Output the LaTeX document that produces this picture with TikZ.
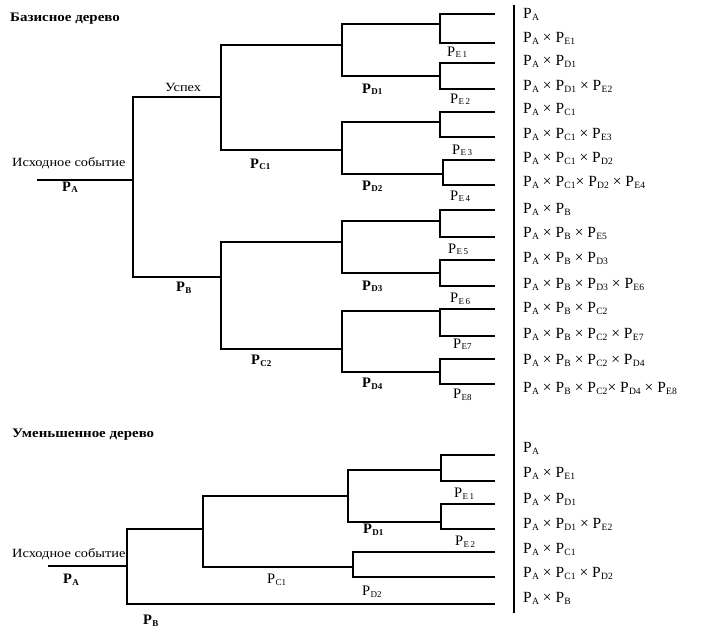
\documentclass[tikz,border=0pt]{standalone}
\usepackage{fontspec}
\setmainfont{Liberation Serif}
\newfontfamily\widefont[FakeStretch=1.15]{Liberation Serif}
\newcommand\myP[1]{P\kern0.3pt\raisebox{-0.3ex}{\scalebox{0.62}{#1}}}
\begin{document}
\begin{tikzpicture}[x=1pt,y=-1pt,
  br/.style={line width=2.6pt,line join=miter},
  sep/.style={line width=1.6pt},
  hd/.style={anchor=base west,inner sep=0pt,font=\widefont\bfseries\fontsize{13}{14}\selectfont},
  ev/.style={anchor=base west,inner sep=0pt,font=\widefont\fontsize{12.5}{14}\selectfont},
  pb/.style={anchor=base west,inner sep=0pt,font=\bfseries\fontsize{14.5}{15}\selectfont},
  pr/.style={anchor=base west,inner sep=0pt,font=\fontsize{14.5}{15}\selectfont},
  res/.style={anchor=base west,inner sep=0pt,font=\fontsize{15.5}{16}\selectfont}]
\useasboundingbox (0,0) rectangle (705,632);
% ---------- top tree ----------
\foreach \i/\y in {1/14,2/43,3/63,4/89,5/112,6/137,7/160,8/185,9/210,10/237,11/260,12/286,13/309,14/336,15/359,16/384}
  \coordinate (L\i) at (495,\y);
\coordinate (eJ1) at (440,24);
\coordinate (eJ2) at (440,76);
\coordinate (eJ3) at (440,122);
\coordinate (eJ4) at (443,174);
\coordinate (eJ5) at (440,221);
\coordinate (eJ6) at (440,273);
\coordinate (eJ7) at (440,311);
\coordinate (eJ8) at (440,372);
\coordinate (dJ1) at (342,45);
\coordinate (dJ2) at (342,150);
\coordinate (dJ3) at (342,242);
\coordinate (dJ4) at (342,349);
\coordinate (cJ1) at (221,97);
\coordinate (cJ2) at (221,277);
\coordinate (aJ) at (133,180);
\coordinate (r0) at (37,180);
\foreach \a/\b/\j in {1/2/1,3/4/2,5/6/3,7/8/4,9/10/5,11/12/6,13/14/7,15/16/8}
  \draw[br] (L\a) -- (L\a -| eJ\j) -- (L\b -| eJ\j) -- (L\b);
\draw[br] (eJ1) -- (eJ1 -| dJ1) -- (eJ2 -| dJ1) -- (eJ2);
\draw[br] (eJ3) -- (eJ3 -| dJ2) -- (eJ4 -| dJ2) -- (eJ4);
\draw[br] (eJ5) -- (eJ5 -| dJ3) -- (eJ6 -| dJ3) -- (eJ6);
\draw[br] (eJ7) -- (eJ7 -| dJ4) -- (eJ8 -| dJ4) -- (eJ8);
\draw[br] (dJ1) -- (dJ1 -| cJ1) -- (dJ2 -| cJ1) -- (dJ2);
\draw[br] (dJ3) -- (dJ3 -| cJ2) -- (dJ4 -| cJ2) -- (dJ4);
\draw[br] (cJ1) -- (cJ1 -| aJ) -- (cJ2 -| aJ) -- (cJ2);
\draw[br] (r0) -- (aJ);
% labels top
\node[hd] (h1) at (10,21) {Базисное дерево};
\node[ev] (us) at (165,91) {Успех};
\node[ev] (ie1) at (12,166) {Исходное событие};
\node[pb] (tpa) at (62,191) {\myP{A}};
\node[pb] (tpc1) at (250,168) {\myP{C1}};
\node[pb] (tpb) at (176,291) {\myP{B}};
\node[pb] (tpc2) at (251,364) {\myP{C2}};
\node[pb] (tpd1) at (362,93) {\myP{D1}};
\node[pb] (tpd2) at (362,190) {\myP{D2}};
\node[pb] (tpd3) at (362,290) {\myP{D3}};
\node[pb] (tpd4) at (362,387) {\myP{D4}};
\node[pr] (tpe1) at (447,56) {\myP{E\,1}};
\node[pr] (tpe2) at (450,103) {\myP{E\,2}};
\node[pr] (tpe3) at (452,154) {\myP{E\,3}};
\node[pr] (tpe4) at (450,200) {\myP{E\,4}};
\node[pr] (tpe5) at (448,253) {\myP{E\,5}};
\node[pr] (tpe6) at (450,302) {\myP{E\,6}};
\node[pr] (tpe7) at (453,348) {\myP{E7}};
\node[pr] (tpe8) at (453,398) {\myP{E8}};
% results top
\node[res] (R1) at (523,18) {\myP{A}};
\node[res] (R2) at (523,42) {\myP{A} × \myP{E1}};
\node[res] (R3) at (523,65) {\myP{A} × \myP{D1}};
\node[res] (R4) at (523,90) {\myP{A} × \myP{D1} × \myP{E2}};
\node[res] (R5) at (523,113) {\myP{A} × \myP{C1}};
\node[res] (R6) at (523,138) {\myP{A} × \myP{C1} × \myP{E3}};
\node[res] (R7) at (523,162) {\myP{A} × \myP{C1} × \myP{D2}};
\node[res] (R8) at (523,186) {\myP{A} × \myP{C1}× \myP{D2} × \myP{E4}};
\node[res] (R9) at (523,213) {\myP{A} × \myP{B}};
\node[res] (R10) at (523,237) {\myP{A} × \myP{B} × \myP{E5}};
\node[res] (R11) at (523,262) {\myP{A} × \myP{B} × \myP{D3}};
\node[res] (R12) at (523,288) {\myP{A} × \myP{B} × \myP{D3} × \myP{E6}};
\node[res] (R13) at (523,312) {\myP{A} × \myP{B} × \myP{C2}};
\node[res] (R14) at (523,338) {\myP{A} × \myP{B} × \myP{C2} × \myP{E7}};
\node[res] (R15) at (523,364) {\myP{A} × \myP{B} × \myP{C2} × \myP{D4}};
\node[res] (R16) at (523,392) {\myP{A} × \myP{B} × \myP{C2}× \myP{D4} × \myP{E8}};
% separator
\coordinate (sepT) at (514,5);
\coordinate (sepB) at (514,613);
\draw[sep] (sepT) -- (sepB);
% ---------- bottom tree ----------
\foreach \i/\y in {1/455,2/481,3/504,4/529,5/552,6/577,7/604}
  \coordinate (M\i) at (495,\y);
\coordinate (fJ1) at (441,470);
\coordinate (fJ2) at (441,522);
\coordinate (gJ1) at (348,496);
\coordinate (gJ2) at (353,567);
\coordinate (hJ) at (203,529);
\coordinate (bJ) at (127,566);
\coordinate (s0) at (48,566);
\draw[br] (M1) -- (M1 -| fJ1) -- (M2 -| fJ1) -- (M2);
\draw[br] (M3) -- (M3 -| fJ2) -- (M4 -| fJ2) -- (M4);
\draw[br] (fJ1) -- (fJ1 -| gJ1) -- (fJ2 -| gJ1) -- (fJ2);
\draw[br] (M5) -- (M5 -| gJ2) -- (M6 -| gJ2) -- (M6);
\draw[br] (gJ1) -- (gJ1 -| hJ) -- (gJ2 -| hJ) -- (gJ2);
\draw[br] (hJ) -- (hJ -| bJ) -- (M7 -| bJ) -- (M7);
\draw[br] (s0) -- (bJ);
% labels bottom
\node[hd] (h2) at (12,437) {Уменьшенное дерево};
\node[ev] (ie2) at (12,557) {Исходное событие};
\node[pb] (bpa) at (63,583) {\myP{A}};
\node[pb] (bpb) at (143,624) {\myP{B}};
\node[pr] (bpc1) at (267,583) {\myP{C1}};
\node[pb] (bpd1) at (363,533) {\myP{D1}};
\node[pr] (bpd2) at (362,595) {\myP{D2}};
\node[pr] (bpe1) at (454,497) {\myP{E\,1}};
\node[pr] (bpe2) at (455,545) {\myP{E\,2}};
% results bottom
\node[res] (S1) at (523,452) {\myP{A}};
\node[res] (S2) at (523,477) {\myP{A} × \myP{E1}};
\node[res] (S3) at (523,503) {\myP{A} × \myP{D1}};
\node[res] (S4) at (523,528) {\myP{A} × \myP{D1} × \myP{E2}};
\node[res] (S5) at (523,553) {\myP{A} × \myP{C1}};
\node[res] (S6) at (523,577) {\myP{A} × \myP{C1} × \myP{D2}};
\node[res] (S7) at (523,602) {\myP{A} × \myP{B}};
\end{tikzpicture}
\end{document}
